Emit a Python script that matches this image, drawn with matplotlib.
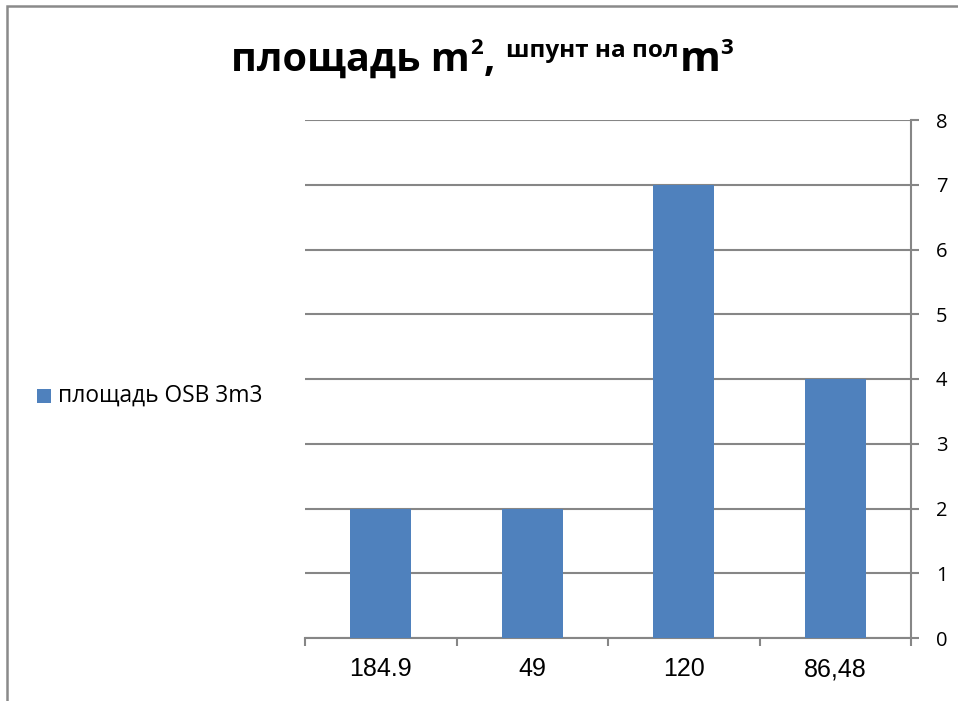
import matplotlib
matplotlib.use("Agg")
import matplotlib.pyplot as plt
from matplotlib.patches import Rectangle
import numpy as np

categories = ["184.9", "49", "120", "86,48"]
values = [2, 2, 7, 4]
y_ticks = [0, 1, 2, 3, 4, 5, 6, 7, 8]
series_name = "площадь OSB 3m3"

BAR = "#4F81BD"
GRID = "#868686"
W, H = 958, 701

fig = plt.figure(figsize=(W / 100, H / 100), dpi=100)
fig.patch.set_facecolor("white")

# outer chart frame (only left and top edges fall inside the canvas)
fig.patches.append(Rectangle((7 / W, -0.1), 1.2, 1 - 6 / H + 0.1,
                             transform=fig.transFigure, fill=False,
                             edgecolor="#8a8a8a", linewidth=1.8))

ax = fig.add_axes([305 / W, 1 - 638 / H, (911 - 305) / W, (638 - 120) / H])
x = np.arange(len(categories))
ax.bar(x, values, width=0.4, color=BAR, zorder=3)
ax.set_xlim(-0.5, len(categories) - 0.5)
ax.set_ylim(0, 8)

ax.yaxis.tick_right()
ax.set_yticks(y_ticks)
ax.set_yticklabels([str(v) for v in y_ticks], fontfamily="Open Sans", fontsize=14.5)
ax.tick_params(axis="y", which="major", length=5.8, width=1.5, color=GRID, pad=12)
ax.yaxis.grid(True, color=GRID, linewidth=1.5, zorder=0)

ax.set_xticks(x)
ax.set_xticklabels(categories, fontfamily="Liberation Sans", fontsize=18)
ax.tick_params(axis="x", which="major", length=0, pad=14)
ax.set_xticks(np.arange(-0.5, len(categories)), minor=True)
ax.tick_params(axis="x", which="minor", length=5.8, width=1.5, color=GRID)

for s in ["left", "top"]:
    ax.spines[s].set_visible(False)
for s in ["bottom", "right"]:
    ax.spines[s].set_color(GRID)
    ax.spines[s].set_linewidth(1.5)

# legend on the left
fig.patches.append(Rectangle((37 / W, 1 - 403 / H), 14 / W, 14 / H,
                             transform=fig.transFigure, facecolor=BAR, edgecolor="none"))
fig.text(58 / W, 1 - 396 / H, series_name, fontfamily="Open Sans", fontsize=16.4,
         va="center", ha="left")

# title built from pieces: main text, superscripts and small caption
fig.canvas.draw()
renderer = fig.canvas.get_renderer()
base_y = 1 - 71 / H
# (text, size, rise px, gap px before)
pieces = [
    ("площадь m", 28.5, 0, 0),
    ("2", 16, 17, 0),
    (",", 28.5, 0, 1),
    ("шпунт на пол", 17.5, 14, 11),
    ("m", 30, 0, 1),
    ("3", 16, 17, 0),
]
xpos = 231
for txt, size, rise, gap in pieces:
    xpos += gap
    t = fig.text(xpos / W, base_y + rise / H, txt, fontfamily="Open Sans",
                 fontweight="bold", fontsize=size, ha="left", va="baseline")
    bb = t.get_window_extent(renderer)
    xpos = bb.x1

fig.savefig("out.png", dpi=100, facecolor="white")
